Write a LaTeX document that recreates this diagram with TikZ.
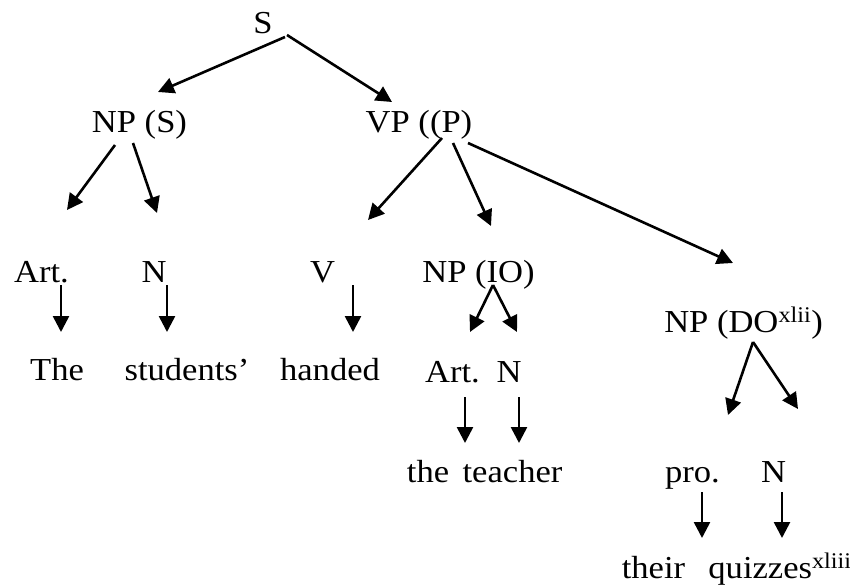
\documentclass[tikz,border=0pt]{standalone}
\usepackage{fontspec}
\setmainfont[FakeStretch=1.08]{Liberation Serif}
\usetikzlibrary{arrows.meta}
\begin{document}
\begin{tikzpicture}[x=1pt,y=-1pt,
  lbl/.style={inner sep=0pt,anchor=base,font=\fontsize{32}{38}\selectfont},
  arr/.style={line width=2.6pt,-{Triangle[length=16pt,width=16pt]}}]
\useasboundingbox (0,0) rectangle (850,588);
% labels
\node[lbl] (S) at (263,34) {S};
\node[lbl] (NPS) at (139.5,133) {NP (S)};
\node[lbl] (VP) at (419,133) {VP ((P)};
\node[lbl] (Art1) at (41.5,282) {Art.};
\node[lbl] (N1) at (154,282) {N};
\node[lbl] (V) at (322.5,282) {V};
\node[lbl] (NPIO) at (478.5,282) {NP (IO)};
\node[lbl] (The) at (57,380) {The};
\node[lbl] (students) at (187,380) {students’};
\node[lbl] (handed) at (330,380) {handed};
\node[lbl] (Art2) at (452.5,382) {Art.};
\node[lbl] (N2) at (509,382) {N};
\node[lbl] (NPDO) at (743.5,332) {NP (DO\textsuperscript{xlii})};
\node[lbl] (the) at (428,482) {the};
\node[lbl] (teacher) at (512.5,482) {teacher};
\node[lbl] (pro) at (692.5,482) {pro.};
\node[lbl] (N3) at (773.5,482) {N};
\node[lbl] (their) at (653.5,578) {their};
\node[lbl] (quizzes) at (780,578) {quizzes\textsuperscript{xliii}};
% arrow end points
\coordinate (s1) at (285,37);   \coordinate (t1) at (158,92);
\coordinate (s2) at (287,35);   \coordinate (t2) at (392,102);
\coordinate (s3) at (115,145);  \coordinate (t3) at (67,210);
\coordinate (s4) at (133,143);  \coordinate (t4) at (157,213);
\coordinate (s5) at (442,138);  \coordinate (t5) at (368,220);
\coordinate (s6) at (453,143);  \coordinate (t6) at (491,226);
\coordinate (s7) at (468,143);  \coordinate (t7) at (733,263);
\coordinate (s8) at (61,285);   \coordinate (t8) at (61,332);
\coordinate (s9) at (167,285);  \coordinate (t9) at (167,332);
\coordinate (s10) at (353,285); \coordinate (t10) at (353,332);
\coordinate (s11) at (493,285); \coordinate (t11) at (470,332);
\coordinate (t12) at (517,332);
\coordinate (s13) at (465,397); \coordinate (t13) at (465,443);
\coordinate (s14) at (519,397); \coordinate (t14) at (519,443);
\coordinate (s15) at (753,342); \coordinate (t15) at (728,415);
\coordinate (t16) at (798,409);
\coordinate (s17) at (702,492); \coordinate (t17) at (702,538);
\coordinate (s18) at (782,492); \coordinate (t18) at (782,538);
% arrows
\draw[arr] (s1) -- (t1);
\draw[arr] (s2) -- (t2);
\draw[arr] (s3) -- (t3);
\draw[arr] (s4) -- (t4);
\draw[arr] (s5) -- (t5);
\draw[arr] (s6) -- (t6);
\draw[arr] (s7) -- (t7);
\draw[arr] (s8) -- (t8);
\draw[arr] (s9) -- (t9);
\draw[arr] (s10) -- (t10);
\draw[arr] (s11) -- (t11);
\draw[arr] (s11) -- (t12);
\draw[arr] (s13) -- (t13);
\draw[arr] (s14) -- (t14);
\draw[arr] (s15) -- (t15);
\draw[arr] (s15) -- (t16);
\draw[arr] (s17) -- (t17);
\draw[arr] (s18) -- (t18);
\end{tikzpicture}
\end{document}
